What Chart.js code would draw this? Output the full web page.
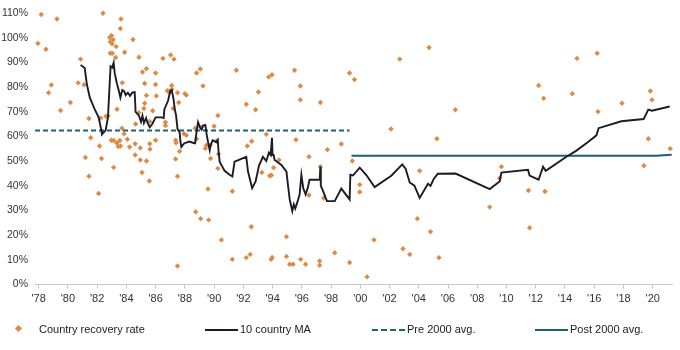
<!DOCTYPE html>
<html>
<head>
<meta charset="utf-8">
<script src="https://cdn.jsdelivr.net/npm/chart.js@4/dist/chart.umd.min.js"></script>
<style>
  html, body { margin:0; padding:0; background:#fff; }
  #wrap { position:relative; width:680px; height:350px; font-family:"Liberation Sans", Arial, sans-serif; }
  canvas { position:absolute; left:0; top:0; }
  .lg { position:absolute; top:322px; font-size:11px; color:#222; line-height:14px; white-space:nowrap; }
  .sw { position:absolute; top:329px; height:0; }
</style>
</head>
<body>
<div id="wrap">
  <canvas id="c" width="680" height="350"></canvas>
  <div class="sw" style="left:16px;top:326px;width:5px;height:5px;background:#DD8A45;transform:rotate(45deg);"></div>
  <div class="lg" style="left:39px;">Country recovery rate</div>
  <div class="sw" style="left:205px;width:33px;border-top:2px solid #1c1c28;"></div>
  <div class="lg" style="left:240px;">10 country MA</div>
  <div class="sw" style="left:372px;width:33px;border-top:2px dashed #1f6079;"></div>
  <div class="lg" style="left:407px;">Pre 2000 avg.</div>
  <div class="sw" style="left:535px;width:33px;border-top:2px solid #1b6070;"></div>
  <div class="lg" style="left:570px;">Post 2000 avg.</div>
</div>
<script>
// Country recovery rate (year, %)
const recYears = [
1978.18,1977.95,1979.25,1978.5,1978.87,1978.68,1979.5,1980.17,1980.87,1980.7,1981.1,1981.44,1981.56,1982.17,1982.4,1982.24,1982.6,1982.75,
1982.86,1982.98,1983.1,1982.9,1983.03,1982.9,1983.04,1983.27,1983.3,1983.59,1983.63,1983.88,1983.72,1983.36,1983.7,1983.84,1984.07,1982.97,
1983.13,1983.35,1983.55,1983.6,1983.45,1984.22,1984.45,1984.86,1985.1,1985.37,1985.25,1985.37,1985.25,1985.2,1984.86,1984.63,1984.6,1984.95,
1985.6,1985.8,1986.0,1986.0,1986.05,1985.6,1985.62,1986.0,1986.5,1986.67,1986.67,1986.8,1986.9,1987.0,1987.1,1987.03,1987.26,1987.1,1987.2,
1987.5,1987.58,1988.0,1988.1,1987.37,1987.4,1987.64,1987.94,1988.1,1988.8,1989.06,1989.24,1988.7,1988.8,1989.13,1990.0,1990.26,1989.47,1989.74,
1990.15,1981.2,1981.44,1982.3,1982.1,1983.13,1984.6,1984.95,1985.07,1985.37,1985.57,1987.37,1987.5,1987.5,1988.74,1989.08,1989.63,1989.58,
1989.4,1989.76,1990.3,1990.26,1990.5,1991.52,1992.2,1992.84,1993.03,1993.73,1993.96,1995.5,1995.9,1995.9,1997.27,1993.57,1995.6,1992.27,
1992.57,1997.75,1998.7,1999.27,1999.6,2002.7,2004.7,2002.1,2005.24,1991.25,1992.55,1991.25,1992.2,1992.47,1993.27,1993.8,1993.92,1994.07,
1994.44,1993.9,1993.97,1994.95,1994.95,1995.17,1995.4,1995.92,1996.26,1996.49,1996.49,1997.22,1997.22,1997.27,1997.5,1998.25,1999.27,1999.45,
1999.96,1999.96,2000.46,2000.94,2002.92,2003.38,2003.9,2004.06,2004.8,2005.38,2006.5,2012.2,2012.54,2014.82,2016.2,2014.5,2016.26,2017.9,
2019.84,2019.95,2019.7,2021.2,2009.65,2009.53,2008.85,2011.5,2011.58,2012.63,2019.4
];
const recRates = [
109.5,97.8,107.7,95.4,80.9,77.8,70.6,73.8,91.4,81.8,81.0,67.3,59.5,56.2,110,67.5,68.2,68.4,
100.2,101.0,99.3,98.4,97.6,93.8,93.8,92.1,96.5,103.8,107.7,94.2,81.8,71.1,63.4,61.1,58.9,58.5,
58.4,57.4,58.4,56.2,56.0,55.8,99.4,92.2,86.2,87.5,81.5,76.7,73.5,71.4,69.7,65.1,57.1,55.4,
66.1,70.5,85.8,81.1,76.5,57.1,54.9,58.5,91.7,65.8,64.5,78.6,78.2,78.4,79.2,93.1,91.4,80.7,71.4,
77.8,73.8,77.4,76.8,58.5,57.5,54.0,61.1,60.5,85.8,87.4,80.5,63.4,59.0,63.8,64.2,68.5,56.5,56.5,
58.1,51.5,43.9,51.1,36.9,47.5,52.5,50.5,45.4,50.1,42.0,50.9,43.9,7.5,29.5,26.7,26.2,38.7,
55.2,51.1,52.9,47.1,18.1,86.9,73.1,70.9,78.1,84.2,85.1,86.9,80.5,74.9,73.8,60.9,58.7,56.2,
58.1,54.7,57.0,85.8,83.1,91.4,96.1,63.1,59.1,37.8,23.4,10.2,10.9,12.2,45.4,44.1,44.3,47.4,
50.5,10.2,11.0,19.4,11.4,8.2,8.2,10.2,8.2,51.8,36.2,9.5,7.8,47.8,35.1,12.9,8.9,50.1,
40.5,37.5,3.1,18.1,14.5,12.2,26.7,46.1,21.4,10.9,70.9,80.7,75.5,91.7,93.8,77.4,70.1,73.5,
78.5,74.9,59.1,55.1,47.8,43.1,31.4,38.1,23.0,37.7,48.2
];

// 10 country moving average
const maYears = [
1980.87,1981.15,1981.3,1981.5,1981.83,1982.1,1982.29,1982.33,1982.58,1982.74,1982.92,1983.03,1983.13,1983.2,1983.35,1983.49,1983.59,1983.72,
1983.85,1983.95,1984.1,1984.25,1984.4,1984.57,1984.63,1984.86,1985.0,1985.1,1985.2,1985.35,1985.45,1985.6,1985.77,1986.0,1986.4,1986.55,
1986.6,1986.85,1987.0,1987.1,1987.23,1987.3,1987.4,1987.5,1987.64,1987.7,1987.76,1987.95,1988.3,1988.55,1988.7,1988.8,1988.9,1989.05,1989.15,
1989.24,1989.4,1989.5,1989.63,1989.7,1989.76,1989.9,1990.15,1990.25,1990.3,1990.38,1990.72,1991.06,1991.25,1991.4,1992.2,1992.32,1992.6,
1992.84,1993.07,1993.34,1993.57,1993.75,1993.87,1993.96,1994.0,1994.07,1994.14,1994.6,1994.95,1995.05,1995.17,1995.35,1995.45,1995.55,1995.7,
1995.85,1995.97,1996.1,1996.26,1996.4,1996.53,1997.22,1997.27,1997.3,1997.45,1997.72,1998.25,1998.7,1999.27,1999.32,1999.5,1999.96,2000.4,
2000.98,2002.12,2002.87,2003.1,2003.38,2003.7,2004.06,2004.35,2004.63,2004.8,2005.03,2005.3,2006.52,2008.85,2009.53,2009.65,2011.47,2011.58,
2012.2,2012.5,2012.68,2014.1,2014.73,2015.58,2016.15,2016.3,2017.85,2019.38,2019.7,2019.95,2021.16
];
const maRates = [
89.0,87.8,81.1,75.8,71.1,67.8,62.5,60.9,62.5,67.8,88.5,88.0,90.0,85.8,81.5,78.5,75.8,78.9,
78.4,76.8,77.8,76.5,77.8,78.0,70.0,68.5,66.0,68.5,65.5,67.5,65.5,63.8,65.1,67.8,67.8,67.5,
71.1,74.5,78.5,78.9,75.1,71.5,68.5,63.0,61.8,57.8,55.8,57.2,58.0,57.5,57.3,61.8,65.8,63.5,62.8,
64.5,64.7,60.5,56.5,54.5,56.5,58.5,57.8,58.7,54.5,49.8,46.1,44.5,43.8,49.8,51.8,45.8,39.1,
41.8,48.2,51.8,50.1,53.5,52.5,59.5,52.5,52.5,50.5,48.5,45.8,40.5,34.5,29.8,32.5,30.8,33.5,
36.5,44.5,39.0,36.5,39.0,42.5,42.5,47.8,40.0,38.0,33.8,33.8,38.9,34.5,44.5,44.2,47.4,44.5,
39.5,44.1,48.7,47.0,41.4,40.1,35.1,38.0,40.9,40.0,42.9,44.9,45.0,38.7,41.8,45.4,46.5,44.2,
42.5,47.8,46.1,51.8,54.1,57.8,60.5,63.4,66.2,67.1,70.9,70.5,72.2
];

// Averages
const preYears = [1977.75, 1999.27];
const preVals = [62.5, 62.5];
const postYears = [1999.4, 2020.2, 2021.3];
const postVals = [52.2, 52.2, 52.6];

// Axis ticks
const xTickYears = [1978,1980,1982,1984,1986,1988,1990,1992,1994,1996,1998,2000,2002,2004,2006,2008,2010,2012,2014,2016,2018,2020];
const xTickLabels = ["'78","'80","'82","'84","'86","'88","'90","'92","'94","'96","'98","'00","'02","'04","'06","'08","'10","'12","'14","'16","'18","'20"];
const yTicks = [0,10,20,30,40,50,60,70,80,90,100,110];

const pts = (xs, ys) => xs.map((x, i) => ({ x: x, y: ys[i] }));
const fontX = { family: "'Liberation Sans', Arial, sans-serif", size: 11 };
const fontY = { family: "'Liberation Sans', Arial, sans-serif", size: 10.5 };

new Chart(document.getElementById('c'), {
  type: 'scatter',
  data: {
    datasets: [
      { label: 'Post 2000 avg.', data: pts(postYears, postVals), showLine: true, borderColor: '#1b6070', borderWidth: 2, pointRadius: 0, order: 3 },
      { label: 'Pre 2000 avg.', data: pts(preYears, preVals), showLine: true, borderColor: '#1f6079', borderWidth: 2, borderDash: [5, 3], pointRadius: 0, order: 2 },
      { label: '10 country MA', data: pts(maYears, maRates), showLine: true, borderColor: '#1c1c28', borderWidth: 1.9, pointRadius: 0, tension: 0, order: 1 },
      { label: 'Country recovery rate', data: pts(recYears, recRates), pointStyle: 'rectRot', pointRadius: 2.7, backgroundColor: '#DD8A45', borderColor: '#DD8A45', borderWidth: 0, clip: false, order: 4 }
    ]
  },
  options: {
    responsive: false,
    animation: false,
    devicePixelRatio: 1,
    layout: { padding: { top: 10, right: 8, left: 0, bottom: 0 } },
    plugins: { legend: { display: false }, tooltip: { enabled: false } },
    scales: {
      x: {
        type: 'linear', min: 1977.75, max: 2021.32,
        afterBuildTicks: s => { s.ticks = xTickYears.map(v => ({ value: v })); },
        afterFit: s => { s.height = 65.5; },
        ticks: { callback: (v, i) => xTickLabels[i], font: fontX, color: '#333', maxRotation: 0, autoSkip: false, padding: 4 },
        grid: { drawOnChartArea: false, drawTicks: true, tickLength: 4, color: '#c8c8c8' },
        border: { display: true, color: '#c8c8c8' }
      },
      y: {
        min: 0, max: 110,
        afterBuildTicks: s => { s.ticks = yTicks.map(v => ({ value: v })); },
        afterFit: s => { s.width = 35; },
        ticks: { callback: v => v + '%', font: fontY, color: '#333', padding: 7 },
        grid: { display: false, drawTicks: false },
        border: { display: false }
      }
    }
  }
});
</script>
</body>
</html>
